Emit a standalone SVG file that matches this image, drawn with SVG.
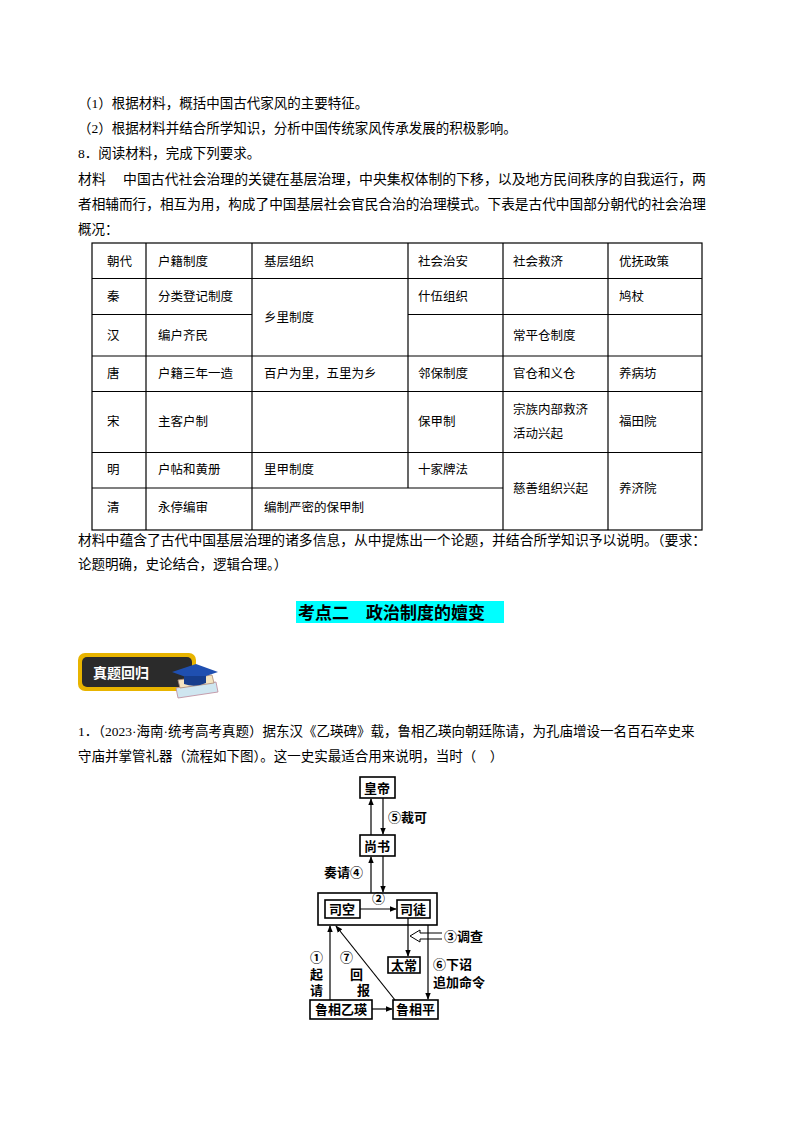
<svg xmlns="http://www.w3.org/2000/svg" width="800" height="1132" viewBox="0 0 800 1132">
<defs>
<style>
text{font-family:"Liberation Serif","Noto Sans CJK SC",serif;font-size:13.5px;fill:#000}
.t{font-size:12.5px}
.b{font-family:"Liberation Sans","Noto Sans CJK SC",sans-serif;font-weight:bold;font-size:13px}
.ln{stroke:#000;stroke-width:1.2;fill:none}
.bx{stroke:#000;stroke-width:1.6;fill:#fff}
</style>
<marker id="ah" viewBox="0 0 10 10" refX="9" refY="5" markerWidth="6" markerHeight="6" orient="auto"><path d="M0,1 L10,5 L0,9 Z" fill="#000"/></marker>
</defs>
<rect width="800" height="1132" fill="#fff"/>
<text x="78" y="108">（1）根据材料，概括中国古代家风的主要特征。</text>
<text x="78" y="133">（2）根据材料并结合所学知识，分析中国传统家风传承发展的积极影响。</text>
<text x="78" y="158">8．阅读材料，完成下列要求。</text>
<text x="78" y="184" textLength="628" lengthAdjust="spacingAndGlyphs">材料　 中国古代社会治理的关键在基层治理，中央集权体制的下移，以及地方民间秩序的自我运行，两</text>
<text x="78" y="209" textLength="628" lengthAdjust="spacingAndGlyphs">者相辅而行，相互为用，构成了中国基层社会官民合治的治理模式。下表是古代中国部分朝代的社会治理</text>
<text x="78" y="234">概况：</text>
<g id="table">
<g class="ln">
<rect x="92" y="243" width="610" height="287"/>
<line x1="92" y1="278.5" x2="702" y2="278.5"/>
<line x1="92" y1="314.5" x2="252" y2="314.5"/>
<line x1="408" y1="314.5" x2="702" y2="314.5"/>
<line x1="92" y1="356" x2="702" y2="356"/>
<line x1="92" y1="391.5" x2="702" y2="391.5"/>
<line x1="92" y1="452.5" x2="702" y2="452.5"/>
<line x1="92" y1="488" x2="503" y2="488"/>
<line x1="146" y1="243" x2="146" y2="530"/>
<line x1="252" y1="243" x2="252" y2="530"/>
<line x1="408" y1="243" x2="408" y2="488"/>
<line x1="503" y1="243" x2="503" y2="530"/>
<line x1="608" y1="243" x2="608" y2="530"/>
</g>
<g class="t">
<text x="107" y="266" class="t">朝代</text><text x="158" y="266" class="t">户籍制度</text><text x="264" y="266" class="t">基层组织</text><text x="418" y="266" class="t">社会治安</text><text x="513" y="266" class="t">社会救济</text><text x="619" y="266" class="t">优抚政策</text>
<text x="107" y="301" class="t">秦</text><text x="158" y="301" class="t">分类登记制度</text><text x="264" y="322" class="t">乡里制度</text><text x="418" y="301" class="t">什伍组织</text><text x="619" y="301" class="t">鸠杖</text>
<text x="107" y="340" class="t">汉</text><text x="158" y="340" class="t">编户齐民</text><text x="513" y="340" class="t">常平仓制度</text>
<text x="107" y="378" class="t">唐</text><text x="158" y="378" class="t">户籍三年一造</text><text x="264" y="378" class="t">百户为里，五里为乡</text><text x="418" y="378" class="t">邻保制度</text><text x="513" y="378" class="t">官仓和义仓</text><text x="619" y="378" class="t">养病坊</text>
<text x="107" y="426" class="t">宋</text><text x="158" y="426" class="t">主客户制</text><text x="418" y="426" class="t">保甲制</text><text x="513" y="414" class="t">宗族内部救济</text><text x="513" y="438" class="t">活动兴起</text><text x="619" y="426" class="t">福田院</text>
<text x="107" y="474" class="t">明</text><text x="158" y="474" class="t">户帖和黄册</text><text x="264" y="474" class="t">里甲制度</text><text x="418" y="474" class="t">十家牌法</text><text x="513" y="493" class="t">慈善组织兴起</text><text x="619" y="493" class="t">养济院</text>
<text x="107" y="512" class="t">清</text><text x="158" y="512" class="t">永停编审</text><text x="264" y="512" class="t">编制严密的保甲制</text>
</g>
</g>
<text x="78" y="545" textLength="628" lengthAdjust="spacingAndGlyphs">材料中蕴含了古代中国基层治理的诸多信息，从中提炼出一个论题，并结合所学知识予以说明。（要求：</text>
<text x="78" y="569">论题明确，史论结合，逻辑合理。）</text>
<rect x="296" y="601" width="208" height="22" fill="#00ffff"/>
<text x="298" y="619" class="b" style="font-size:17px">考点二　政治制度的嬗变</text>
<g id="badge">
<rect x="78" y="653" width="118" height="38" rx="7" fill="#e8b400"/>
<rect x="82" y="657" width="110" height="30" rx="5" fill="#2b2b2b"/>
<text x="93" y="678" style="font-family:'Noto Sans CJK SC',sans-serif;font-weight:bold;font-size:14px;fill:#fff">真题回归</text>
<path d="M178,698 L218,692 L216,682 L176,688 Z" fill="#cfe6f0" stroke="#b89" stroke-width="0.8"/>
<path d="M180,688 L214,683 L212,675 L178,680 Z" fill="#f3e4c0" stroke="#a87" stroke-width="0.8"/>
<path d="M172,672 L196,664 L218,672 L194,680 Z" fill="#1f4fb0"/>
<path d="M184,676 L184,684 Q195,688 206,683 L206,676 Z" fill="#163d8c"/>
</g>
<text x="78" y="736">1．（2023·海南·统考高考真题）据东汉《乙瑛碑》载，鲁相乙瑛向朝廷陈请，为孔庙增设一名百石卒史来</text>
<text x="78" y="761">守庙并掌管礼器（流程如下图）。这一史实最适合用来说明，当时（　）</text>
<g id="n-huangdi"><rect class="bx" x="360" y="777" width="35" height="21"/><text class="b" x="364" y="793">皇帝</text></g>
<g id="n-shangshu"><rect class="bx" x="360" y="835" width="35" height="21"/><text class="b" x="364" y="851">尚书</text></g>
<g id="n-group"><rect class="bx" x="318" y="893" width="119" height="32"/></g>
<g id="n-sikong"><rect class="bx" x="325" y="900" width="35" height="18"/><text class="b" x="329" y="914">司空</text></g>
<g id="n-situ"><rect class="bx" x="397" y="900" width="33" height="18"/><text class="b" x="400" y="914">司徒</text></g>
<g id="n-taichang"><rect class="bx" x="388" y="957" width="32" height="16"/><text class="b" x="391" y="970">太常</text></g>
<g id="n-yiying"><rect class="bx" x="310" y="1000" width="62" height="19"/><text class="b" x="315" y="1014">鲁相乙瑛</text></g>
<g id="n-ping"><rect class="bx" x="393" y="1000" width="45" height="19"/><text class="b" x="396" y="1014">鲁相平</text></g>
<g id="connectors" class="ln" stroke-width="1.4">
<line x1="371" y1="835" x2="371" y2="799" marker-end="url(#ah)"/>
<line x1="383" y1="798" x2="383" y2="834" marker-end="url(#ah)"/>
<line x1="371" y1="893" x2="371" y2="857" marker-end="url(#ah)"/>
<line x1="383" y1="856" x2="383" y2="892" marker-end="url(#ah)"/>
<line x1="360" y1="909" x2="396" y2="909" marker-end="url(#ah)"/>
<line x1="408" y1="918" x2="408" y2="956" marker-end="url(#ah)"/>
<line x1="428" y1="925" x2="428" y2="999" marker-end="url(#ah)"/>
<line x1="330" y1="1000" x2="330" y2="926" marker-end="url(#ah)"/>
<line x1="395" y1="1000" x2="336" y2="926" marker-end="url(#ah)"/>
<line x1="372" y1="1009" x2="392" y2="1009" marker-end="url(#ah)"/>
<path d="M442,933 L420,933 L420,930 L410,936 L420,942 L420,939 L442,939" stroke-width="1"/>
</g>
<g class="b">
<text class="b" x="388" y="822">⑤裁可</text>
<text class="b" x="324" y="877">奏请④</text>
<text class="b" x="372" y="903">②</text>
<text class="b" x="444" y="941">③调查</text>
<text class="b" x="433" y="969">⑥下诏</text>
<text class="b" x="433" y="987">追加命令</text>
<text class="b" x="310" y="962">①</text><text class="b" x="310" y="979">起</text><text class="b" x="310" y="995">请</text>
<text class="b" x="340" y="962">⑦</text><text class="b" x="350" y="979">回</text><text class="b" x="357" y="995">报</text>
</g>
</svg>
